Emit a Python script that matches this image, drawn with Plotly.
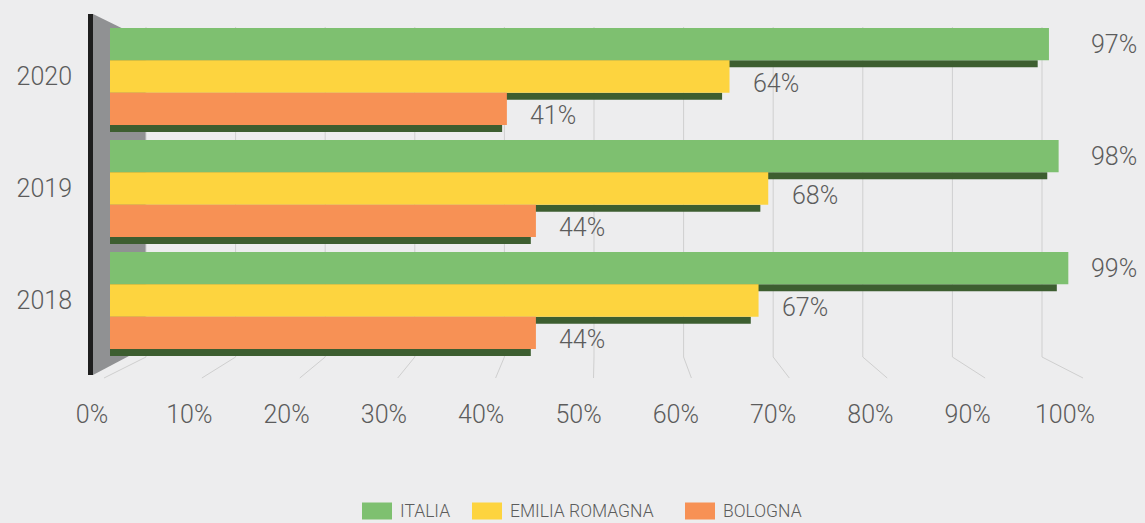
import plotly.graph_objects as go

# data
years = [2020, 2019, 2018]
series = ['ITALIA', 'EMILIA ROMAGNA', 'BOLOGNA']
italia = [97, 98, 99]
emilia = [64, 68, 67]
bologna = [41, 44, 44]
ticks = [0, 10, 20, 30, 40, 50, 60, 70, 80, 90, 100]

colors = ['#7ec070', '#fdd43f', '#f79155']
side_col = '#3d5e30'
txt_col = '#5c5c5c'
FONT = 'Roboto'

W, H = 1145, 523
L = 73

# pixel <-> data helpers (front plane of the 3d bars)
X0, XK = 110, 9.68      # px of 0 %, px per %
Y0, YK = 76.5, 112      # px of 2020 row centre, px per row


def X(p):
    return (p - X0) / XK


def Y(p):
    return years[0] + (Y0 - p) / YK


# perspective planes for gridlines / floor (px = a + b*v)
back = (146, 8.96)
front = (104, 9.79)
lab = (92, 9.73)

bar_h = 32.3 / YK
side_h = 7 / YK

fig = go.Figure()

values = [italia, emilia, bologna]

# dark bottom faces first
for k, vals in enumerate(values):
    yc = [yr + (1 - k) * bar_h - bar_h / 2 - side_h / 2 for yr in years]
    fig.add_bar(x=[v * 0.988 for v in vals], y=yc, orientation='h',
                width=side_h, marker=dict(color=side_col, line_width=0),
                showlegend=False, hoverinfo='skip')

# bars
for k, vals in enumerate(values):
    yc = [yr + (1 - k) * bar_h for yr in years]
    fig.add_bar(x=vals, y=yc, orientation='h', width=bar_h, name=series[k],
                marker=dict(color=colors[k], line_width=0), showlegend=False)

# invisible trace so the label axis is drawn
fig.add_scatter(x=[None], y=[None], xaxis='x2', showlegend=False, hoverinfo='skip')

shapes = []
# side wall and edge
shapes.append(dict(type='path', xref='x', yref='y', layer='below',
                   path=f'M{X(93)},{Y(14)} L{X(146)},{Y(40)} L{X(146)},{Y(347)} L{X(93)},{Y(375)} Z',
                   fillcolor='#909193', line_width=0))
shapes.append(dict(type='line', xref='x', yref='y', layer='below',
                   x0=X(90.5), x1=X(90.5), y0=Y(14), y1=Y(375),
                   line=dict(color='#1e1e1e', width=5)))
# back wall gridlines and floor lines
for v in ticks:
    xb = X(back[0] + back[1] * v)
    xf = X(front[0] + front[1] * v)
    shapes.append(dict(type='line', xref='x', yref='y', layer='below',
                       x0=xb, x1=xb, y0=Y(27), y1=Y(357),
                       line=dict(color='#cfcfcf', width=1)))
    shapes.append(dict(type='line', xref='x', yref='y', layer='below',
                       x0=xb, x1=xf, y0=Y(357), y1=Y(378),
                       line=dict(color='#cfcfcf', width=1)))

# value labels
ann = []
lab_font = dict(size=25, color=txt_col, family=FONT, weight=300)
for k, vals in enumerate(values):
    for yr, v in zip(years, vals):
        yc = yr + (1 - k) * bar_h
        if k == 0:
            ann.append(dict(x=X(1139), y=yc, text=f'{v}%', xanchor='right',
                            showarrow=False, font=lab_font))
        else:
            ann.append(dict(x=v + 2.2, y=yc - 7 / YK, text=f'{v}%', xanchor='left',
                            showarrow=False, font=lab_font))

# legend: wide swatches + labels
leg_x = [362, 472, 685]
for k in range(3):
    shapes.append(dict(type='rect', xref='x', yref='y', x0=X(leg_x[k]), x1=X(leg_x[k] + 30),
                       y0=Y(502.5), y1=Y(519.5), fillcolor=colors[k], line_width=0))
    ann.append(dict(x=X(leg_x[k] + 36), y=Y(511), text=series[k], xanchor='left',
                    showarrow=False, font=dict(size=17.5, color=txt_col, family=FONT, weight=300)))

fig.update_layout(
    width=W, height=H,
    margin=dict(l=L, r=0, t=0, b=0, pad=0),
    paper_bgcolor='#ededee',
    plot_bgcolor='rgba(0,0,0,0)',
    barmode='overlay',
    showlegend=False,
    font=dict(family=FONT, color=txt_col, weight=300),
    shapes=shapes,
    annotations=ann,
    xaxis=dict(range=[X(L), X(W)], visible=False),
    xaxis2=dict(overlaying='x', anchor='free', position=1 - 397 / H,
                range=[(L - lab[0]) / lab[1], (W - lab[0]) / lab[1]],
                tickvals=ticks, ticktext=[f'{t}%' for t in ticks],
                ticks='', showgrid=False, zeroline=False, showline=False,
                tickfont=lab_font),
    yaxis=dict(range=[Y(H), Y(0)], tickvals=years, ticktext=[str(y) for y in years],
               showgrid=False, zeroline=False, showline=False, ticks='',
               tickfont=lab_font),
)

fig.write_html('out.html', config={'displayModeBar': False},
               post_script="document.body.style.margin='0';")
